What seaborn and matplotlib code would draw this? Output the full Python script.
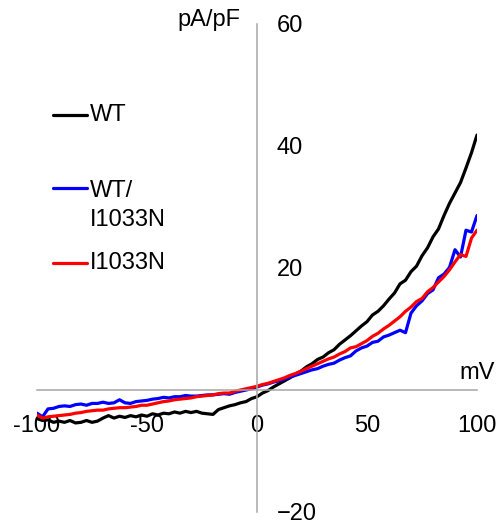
import numpy as np
import pandas as pd
import matplotlib
matplotlib.use("Agg")
import matplotlib.pyplot as plt
from matplotlib.lines import Line2D
import seaborn as sns

# membrane potential (mV), sampled every 2.5 mV
voltage = [v / 2 for v in range(-200, 201, 5)]

# current density (pA/pF)
wt = [-4.7, -5.0, -4.9, -5.3, -5.1, -5.3, -5.0, -5.4, -5.3, -5.0,
      -5.3, -5.1, -4.6, -4.2, -4.6, -4.3, -4.5, -4.2, -4.4, -4.1,
      -4.3, -3.9, -4.1, -3.8, -3.9, -3.6, -3.8, -3.5, -3.7, -3.5,
      -3.8, -3.9, -4.0, -3.2, -2.9, -2.6, -2.4, -2.1, -1.9, -1.4,
      -1.1, -0.5, -0.1, 0.5, 1.0, 1.5, 2.0, 2.6, 3.1, 3.8,
      4.3, 5.0, 5.4, 6.1, 6.6, 7.5, 8.2, 8.9, 9.7, 10.5,
      11.2, 12.3, 12.9, 13.8, 14.9, 15.9, 17.4, 18.0, 19.4, 20.3,
      22.0, 23.3, 25.1, 26.4, 28.6, 30.6, 32.3, 34.0, 36.4, 38.9,
      41.8]
wt_i1033n = [-3.8, -4.4, -3.1, -3.0, -2.7, -2.6, -2.7, -2.4, -2.3, -2.5,
             -2.2, -2.2, -2.0, -2.2, -2.1, -1.6, -2.1, -2.2, -1.9, -1.8,
             -1.7, -1.5, -1.4, -1.2, -1.3, -1.1, -1.1, -0.9, -1.0, -1.0,
             -0.9, -0.8, -0.8, -0.7, -0.6, -0.7, -0.4, -0.2, 0.0, 0.2,
             0.5, 0.8, 1.0, 1.3, 1.5, 1.8, 2.1, 2.4, 2.7, 3.0,
             3.3, 3.5, 3.9, 4.2, 4.4, 4.9, 5.3, 5.6, 6.4, 6.9,
             7.2, 7.8, 8.0, 8.7, 9.0, 9.4, 9.8, 9.4, 12.6, 13.8,
             14.6, 15.8, 16.4, 18.4, 19.0, 20.1, 23.0, 21.8, 26.2, 25.9,
             28.6]
i1033n = [-4.1, -4.6, -4.4, -4.3, -4.2, -4.1, -4.0, -3.8, -3.7, -3.5,
          -3.4, -3.3, -3.3, -3.1, -3.0, -2.9, -2.9, -2.8, -2.7, -2.5,
          -2.5, -2.3, -2.1, -1.9, -1.8, -1.6, -1.5, -1.4, -1.3, -1.1,
          -1.0, -0.9, -0.8, -0.6, -0.5, -0.5, -0.2, 0.0, 0.2, 0.4,
          0.6, 0.9, 1.1, 1.4, 1.7, 2.0, 2.4, 2.7, 3.1, 3.5,
          3.9, 4.3, 4.7, 5.1, 5.4, 5.9, 6.3, 6.9, 7.1, 7.6,
          8.1, 8.8, 9.3, 10.0, 10.6, 11.3, 12.0, 12.9, 13.6, 14.5,
          15.0, 16.1, 16.8, 17.7, 18.6, 19.7, 21.0, 22.2, 21.9, 24.9,
          26.2]

groups = ["WT", "WT/\nI1033N", "I1033N"]
colors = ["#000000", "#0000ff", "#ff0000"]

x_ticks = [-100, -50, 0, 50, 100]
x_ticklabels = ["-100", "-50", "0", "50", "100"]
y_ticks = [-20, 20, 40, 60]
y_ticklabels = ["\u221220", "20", "40", "60"]

df = pd.DataFrame({
    "mV": voltage * 3,
    "pA/pF": wt + wt_i1033n + i1033n,
    "group": [g for g in groups for _ in voltage],
})

sns.set_style("white")
plt.rcParams["font.family"] = ["Liberation Sans", "DejaVu Sans"]
plt.rcParams["text.color"] = "black"

W, H = 500, 527
fig = plt.figure(figsize=(W / 100, H / 100), dpi=100)
ax = fig.add_axes([37 / W, 1 - 512 / H, 440 / W, 488 / H])

sns.lineplot(data=df, x="mV", y="pA/pF", hue="group", hue_order=groups,
             palette=colors, sort=False, estimator=None, linewidth=2.3,
             legend=False, ax=ax)

ax.set_xlim(-100, 100)
ax.set_ylim(-20, 60)
ax.set_xlabel("")
ax.set_ylabel("")

spine_col = "#a6a6a6"
for side in ["top", "right"]:
    ax.spines[side].set_visible(False)
for side in ["left", "bottom"]:
    ax.spines[side].set_position(("data", 0))
    ax.spines[side].set_color(spine_col)
    ax.spines[side].set_linewidth(1.1)

ax.set_xticks(x_ticks)
ax.set_xticklabels(x_ticklabels)
ax.set_yticks(y_ticks)
ax.set_yticklabels(y_ticklabels)
ax.tick_params(axis="x", direction="out", length=4, width=1.1,
               color=spine_col, labelcolor="black", labelsize=17, pad=14)
ax.tick_params(axis="y", direction="in", length=4, width=1.1,
               color=spine_col, labelcolor="black", labelsize=17, pad=-14)
for lab in ax.get_yticklabels():
    lab.set_horizontalalignment("left")

# axis titles
fig.text(240 / W, 1 - 20 / H, "pA/pF", ha="right", va="center", fontsize=17)
fig.text(495 / W, 1 - 373 / H, "mV", ha="right", va="center", fontsize=17)

# legend keys drawn by hand (uneven spacing in the original)
key_y = [115, 188, 263]
label_y = [115, 205.5, 263]
for g, c, ky, ly in zip(groups, colors, key_y, label_y):
    fig.add_artist(Line2D([53 / W, 87 / W], [1 - ky / H, 1 - ky / H],
                          color=c, linewidth=2.3, transform=fig.transFigure))
    fig.text(90 / W, 1 - ly / H, g, ha="left", va="center", fontsize=17,
             linespacing=1.45)

fig.savefig("out.png", dpi=100)
